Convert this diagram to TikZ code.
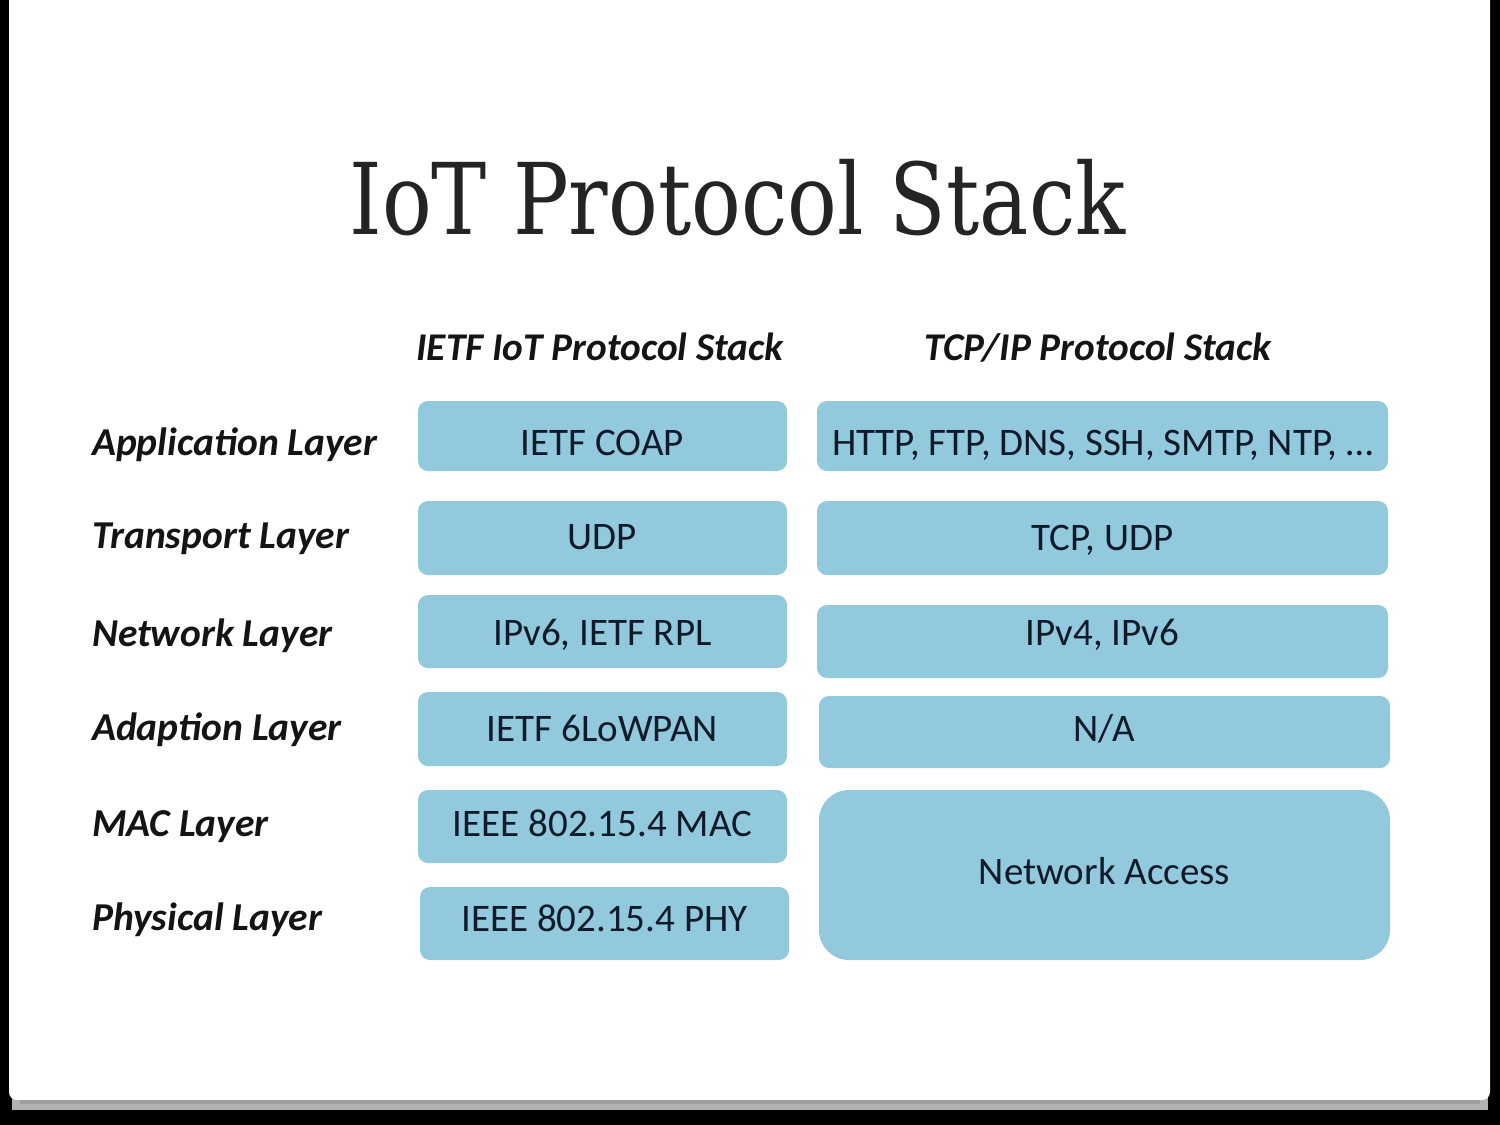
\documentclass[tikz,border=0pt]{standalone}
\usepackage{fontspec}
\setmainfont{Carlito}
\newfontfamily\titlefont[FakeStretch=0.835]{DejaVu Serif}
\definecolor{boxblue}{HTML}{93C9DC}
\definecolor{txtdark}{HTML}{0F1B2A}
\begin{document}
\begin{tikzpicture}[x=1pt,y=-1pt,
  layerbox/.style={fill=boxblue, rounded corners=10pt, inner sep=0pt, text=txtdark,
     font=\fontsize{39}{44}\selectfont, text depth=0pt},
  bl/.style={text height=#1 pt},
  lbl/.style={anchor=base west, inner sep=0pt, text=black!92, font=\fontsize{39.5}{44}\selectfont\bfseries\itshape},
  hdr/.style={anchor=base, inner sep=0pt, text=black!92, font=\fontsize{39.3}{44}\selectfont\bfseries\itshape}]
\useasboundingbox (0,0) rectangle (1500,1125);
\fill[black] (0,0) rectangle (1500,1125);
\fill[gray!60] (12,1080) rectangle (1488,1110);
\fill[white, rounded corners=8pt] (9,-10) rectangle (1490,1100);
\fill[gray!75] (20,1100) rectangle (1480,1104);
% title
\node[anchor=base, inner sep=0pt, text=black!86, font=\titlefont\fontsize{99}{105}\selectfont] (title) at (737.5,234) {IoT Protocol Stack};
% headers
\node[hdr] (h1) at (600,360) {IETF IoT Protocol Stack};
\node[hdr] (h2) at (1098,360) {TCP/IP Protocol Stack};
% left labels
\node[lbl] (l1) at (92,455) {Application Layer};
\node[lbl] (l2) at (92,548) {Transport Layer};
\node[lbl] (l3) at (92,646) {Network Layer};
\node[lbl] (l4) at (92,740) {Adaption Layer};
\node[lbl] (l5) at (92,836) {MAC Layer};
\node[lbl] (l6) at (92,930) {Physical Layer};
% IETF column
\node[layerbox, bl=38, minimum width=369pt, minimum height=70pt] (a1) at (602.5,436) {IETF COAP};
\node[layerbox, bl=22, minimum width=369pt, minimum height=74pt] (a2) at (602.5,538) {UDP};
\node[layerbox, bl=27, minimum width=369pt, minimum height=73pt] (a3) at (602.5,631.5) {IPv6, IETF RPL};
\node[layerbox, bl=24, minimum width=369pt, minimum height=74pt] (a4) at (602.5,729) {IETF 6LoWPAN};
\node[layerbox, bl=19, minimum width=369pt, minimum height=73pt] (a5) at (602.5,826.5) {IEEE 802.15.4 MAC};
\node[layerbox, bl=15, minimum width=369pt, minimum height=73pt] (a6) at (604.5,923.5) {IEEE 802.15.4 PHY};
% TCP/IP column
\node[layerbox, bl=38, minimum width=571pt, minimum height=70pt] (b1) at (1102.5,436) {HTTP, FTP, DNS, SSH, SMTP, NTP, \dots};
\node[layerbox, bl=24, minimum width=571pt, minimum height=74pt] (b2) at (1102.5,538) {TCP, UDP};
\node[layerbox, bl=7, minimum width=571pt, minimum height=73pt] (b3) at (1102.5,641.5) {IPv4, IPv6};
\node[layerbox, bl=18, minimum width=571pt, minimum height=72pt] (b4) at (1104.5,732) {N/A};
\node[layerbox, bl=18, rounded corners=30pt, minimum width=571pt, minimum height=170pt] (b5) at (1104.5,875) {Network Access};
\end{tikzpicture}
\end{document}
